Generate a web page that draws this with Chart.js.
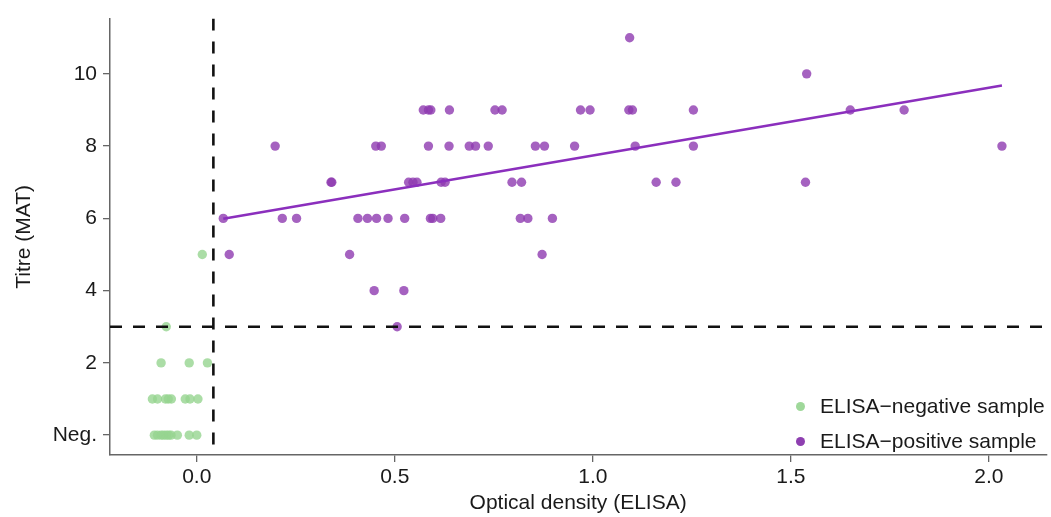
<!DOCTYPE html>
<html>
<head>
<meta charset="utf-8">
<script src="https://cdn.jsdelivr.net/npm/chart.js@4.4.1/dist/chart.umd.min.js"></script>
<style>
  body { margin: 0; background: #fff; }
  #caixa { position: relative; width: 1051px; height: 517px; }
  .item { position: absolute; left: 796px; height: 24px; display: flex; align-items: center;
          font: 21px "Liberation Sans", Arial, sans-serif; color: #1a1a1a; white-space: nowrap; }
  .bola { width: 9px; height: 9px; border-radius: 50%; margin-right: 15px; }
</style>
</head>
<body>
<div id="caixa">
  <canvas id="grafico"></canvas>
  <div class="item" style="top:394px"><span class="bola" style="background:#9fd89a"></span>ELISA−negative sample</div>
  <div class="item" style="top:429px"><span class="bola" style="background:#8e3fb0"></span>ELISA−positive sample</div>
</div>
<script>
// ELISA-negative samples (optical density, titre; 0 = Neg.)
const negOD = [-0.107, -0.099, -0.090, -0.084, -0.077, -0.071, -0.065, -0.049, -0.019, 0.000,
               -0.112, -0.099, -0.079, -0.072, -0.064, -0.029, -0.017, 0.003,
               -0.090, -0.019, 0.027,
               -0.077,
               0.014];
const negTitre = [0, 0, 0, 0, 0, 0, 0, 0, 0, 0,
                  1, 1, 1, 1, 1, 1, 1, 1,
                  2, 2, 2,
                  3,
                  5];

// ELISA-positive samples
const posOD = [0.506,
               0.448, 0.523,
               0.082, 0.386, 0.872,
               0.067, 0.216, 0.252, 0.407, 0.431, 0.454, 0.483, 0.525, 0.590, 0.596, 0.616, 0.817, 0.836, 0.898,
               0.339, 0.341, 0.535, 0.546, 0.556, 0.617, 0.627, 0.796, 0.820, 1.160, 1.210, 1.537,
               0.198, 0.452, 0.466, 0.585, 0.637, 0.688, 0.704, 0.736, 0.855, 0.878, 0.954, 1.107, 1.254, 2.033,
               0.572, 0.585, 0.591, 0.638, 0.753, 0.771, 0.969, 0.993, 1.091, 1.100, 1.254, 1.650, 1.786,
               1.540,
               1.093];
const posTitre = [3,
                  4, 4,
                  5, 5, 5,
                  6, 6, 6, 6, 6, 6, 6, 6, 6, 6, 6, 6, 6, 6,
                  7, 7, 7, 7, 7, 7, 7, 7, 7, 7, 7, 7,
                  8, 8, 8, 8, 8, 8, 8, 8, 8, 8, 8, 8, 8, 8,
                  9, 9, 9, 9, 9, 9, 9, 9, 9, 9, 9, 9, 9,
                  10,
                  11];

// regression line over the positive samples
const ajusteOD = [0.067, 2.033];
const ajusteTitre = [5.99, 9.68];

// cut-offs
const corteOD = 0.042;
const corteTitre = 3;

const xTicks = [0, 0.5, 1, 1.5, 2];
const xTickLabels = ['0.0', '0.5', '1.0', '1.5', '2.0'];
const yTicks = [0, 2, 4, 6, 8, 10];
const yTickLabels = ['Neg.', '2', '4', '6', '8', '10'];

const xMin = -0.219, xMax = 2.145;
const yMin = -0.55, yMax = 11.53;

const fonte = { family: '"Liberation Sans", Arial, sans-serif', size: 21 };

function pontos(xs, ys) {
    return xs.map((x, i) => ({ x: x, y: ys[i] }));
}

const ctx = document.getElementById('grafico').getContext('2d');

new Chart(ctx, {
    type: 'scatter',
    data: {
        datasets: [
            {
                label: 'corte vertical',
                type: 'line',
                data: [{ x: corteOD, y: yMax }, { x: corteOD, y: yMin }],
                borderColor: '#111',
                borderWidth: 2.6,
                borderDash: [12, 11],
                pointRadius: 0,
                order: 0
            },
            {
                label: 'corte horizontal',
                type: 'line',
                data: [{ x: xMin, y: corteTitre }, { x: xMax, y: corteTitre }],
                borderColor: '#111',
                borderWidth: 2.6,
                borderDash: [12, 11],
                pointRadius: 0,
                order: 0
            },
            {
                label: 'ajuste',
                type: 'line',
                data: pontos(ajusteOD, ajusteTitre),
                borderColor: '#8b2fbd',
                borderWidth: 2.6,
                pointRadius: 0,
                order: 1
            },
            {
                label: 'ELISA−positive sample',
                data: pontos(posOD, posTitre),
                backgroundColor: 'rgba(142,59,176,0.8)',
                borderWidth: 0,
                pointRadius: 4.7,
                order: 2
            },
            {
                label: 'ELISA−negative sample',
                data: pontos(negOD, negTitre),
                backgroundColor: 'rgba(150,212,144,0.8)',
                borderWidth: 0,
                pointRadius: 4.7,
                order: 3
            }
        ]
    },
    options: {
        responsive: true,
        maintainAspectRatio: false,
        animation: false,
        layout: { padding: { top: 16, right: 0, left: 0, bottom: 0 } },
        plugins: { legend: { display: false }, tooltip: { enabled: false } },
        scales: {
            x: {
                type: 'linear',
                min: xMin,
                max: xMax,
                afterBuildTicks: s => { s.ticks = xTicks.map(v => ({ value: v })); },
                afterFit: s => { s.height = 62; },
                ticks: {
                    font: fonte,
                    color: '#1a1a1a',
                    padding: 3,
                    maxRotation: 0,
                    callback: (v, i) => xTickLabels[i]
                },
                grid: { display: true, drawOnChartArea: false, drawTicks: true, tickLength: 7, color: '#666', lineWidth: 1.3 },
                border: { display: true, color: '#666', width: 1.5 },
                title: { display: true, text: 'Optical density (ELISA)', font: fonte, color: '#1a1a1a', padding: { top: 0, bottom: 1 } }
            },
            y: {
                type: 'linear',
                min: yMin,
                max: yMax,
                afterBuildTicks: s => { s.ticks = yTicks.map(v => ({ value: v })); },
                afterFit: s => { s.width = 110; },
                ticks: {
                    font: fonte,
                    color: '#1a1a1a',
                    padding: 6,
                    callback: (v, i) => yTickLabels[i]
                },
                grid: { display: true, drawOnChartArea: false, drawTicks: true, tickLength: 7, color: '#666', lineWidth: 1.3 },
                border: { display: true, color: '#666', width: 1.5 },
                title: { display: true, text: 'Titre (MAT)', font: fonte, color: '#1a1a1a', padding: { top: 12, bottom: 0 } }
            }
        }
    }
});
</script>
</body>
</html>
